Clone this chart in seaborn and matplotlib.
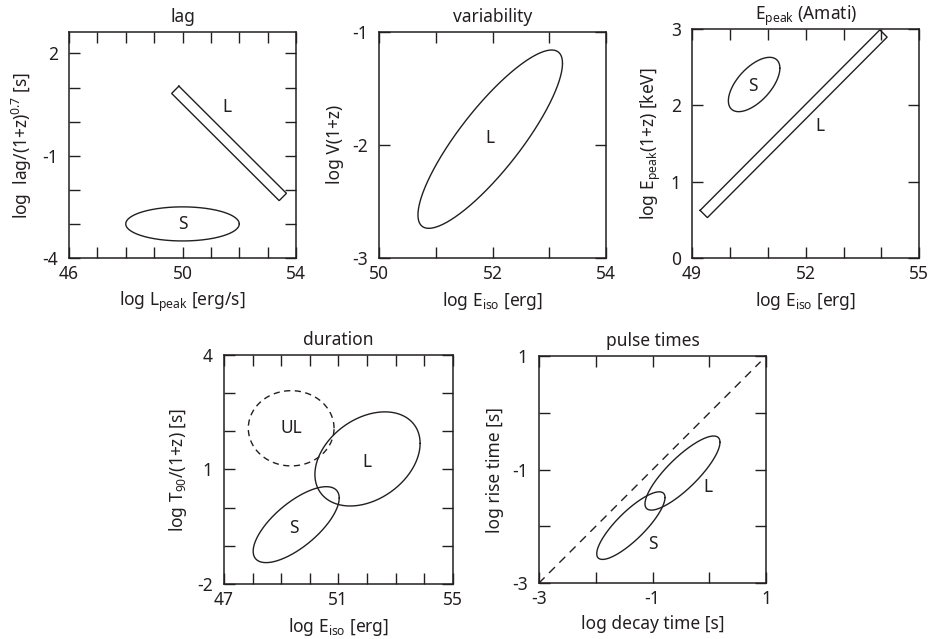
import numpy as np
import pandas as pd
import matplotlib
matplotlib.use("Agg")
import matplotlib.pyplot as plt
import seaborn as sns

# ------------------------------------------------------------------ data
# panel "lag"
lag_xticks = [46, 47, 48, 49, 50, 51, 52, 53, 54]
lag_xticklabels = ["46", "", "", "", "50", "", "", "", "54"]
lag_yticks = [-4, -3, -2, -1, 0, 1, 2]
lag_yticklabels = ["-4", "", "", "-1", "", "", "2"]
lag_xlim = [46, 54]
lag_ylim = [-4, 2.63]
lag_L_band_x = [49.745, 53.535]          # centre line of the L band
lag_L_band_y = [0.935, -2.21]
lag_S_center = [50.0, -3.0]
lag_S_half = [2.0, 0.5]
lag_S_rho = 0.0
lag_labels = ["L", "S"]
lag_label_x = [51.55, 50.0]
lag_label_y = [0.44, -3.0]

# panel "variability"
var_xticks = [50, 51, 52, 53, 54]
var_xticklabels = ["50", "", "52", "", "54"]
var_yticks = [-3, -2, -1]
var_yticklabels = ["-3", "-2", "-1"]
var_xlim = [50, 54]
var_ylim = [-3, -1]
var_L_center = [51.96, -1.951]
var_L_half = [1.27, 0.789]
var_L_rho = 0.85
var_labels = ["L"]
var_label_x = [51.96]
var_label_y = [-1.94]

# panel "Epeak (Amati)"
ama_xticks = [49, 50, 51, 52, 53, 54, 55]
ama_xticklabels = ["49", "", "", "52", "", "", "55"]
ama_yticks = [0, 1, 2, 3]
ama_yticklabels = ["0", "1", "2", "3"]
ama_xlim = [49, 55]
ama_ylim = [0, 3]
ama_L_band_x = [49.31, 54.055]
ama_L_band_y = [0.574, 2.945]
ama_S_center = [50.64, 2.275]
ama_S_half = [0.68, 0.357]
ama_S_rho = 0.6
ama_labels = ["S", "L"]
ama_label_x = [50.62, 52.38]
ama_label_y = [2.25, 1.73]

# panel "duration"
dur_xticks = [47, 48, 49, 50, 51, 52, 53, 54, 55]
dur_xticklabels = ["47", "", "", "", "51", "", "", "", "55"]
dur_yticks = [-2, -1, 0, 1, 2, 3, 4]
dur_yticklabels = ["-2", "", "", "1", "", "", "4"]
dur_xlim = [47, 55]
dur_ylim = [-2, 4]
dur_UL_center = [49.35, 2.08]
dur_UL_half = [1.5, 0.986]
dur_UL_rho = 0.0
dur_L_center = [52.02, 1.277]
dur_L_half = [1.84, 1.233]
dur_L_rho = 0.33
dur_S_center = [49.525, -0.445]
dur_S_half = [1.505, 0.995]
dur_S_rho = 0.7
dur_labels = ["UL", "L", "S"]
dur_label_x = [49.36, 52.01, 49.43]
dur_label_y = [2.08, 1.2, -0.54]

# panel "pulse times"
pul_xticks = [-3, -2, -1, 0, 1]
pul_xticklabels = ["-3", "", "-1", "", "1"]
pul_yticks = [-3, -2, -1, 0, 1]
pul_yticklabels = ["-3", "", "-1", "", "1"]
pul_xlim = [-3, 1]
pul_ylim = [-3, 1]
pul_diag_x = [-3.0, 0.9]
pul_diag_y = [-3.0, 0.9]
pul_L_center = [-0.473, -1.06]
pul_L_half = [0.659, 0.652]
pul_L_rho = 0.83
pul_S_center = [-1.38, -1.985]
pul_S_half = [0.60, 0.595]
pul_S_rho = 0.83
pul_labels = ["L", "S"]
pul_label_x = [-0.03, -0.99]
pul_label_y = [-1.31, -2.30]

# ------------------------------------------------------------------ style
sns.set_style("ticks")
INK = "#231f20"
FONT = "Noto Sans"
plt.rcParams["font.family"] = [FONT, "DejaVu Sans"]
plt.rcParams["mathtext.fontset"] = "custom"
plt.rcParams["mathtext.rm"] = FONT
plt.rcParams["mathtext.it"] = FONT + ":italic"
plt.rcParams["mathtext.bf"] = FONT + ":bold"
plt.rcParams["text.color"] = INK
plt.rcParams["axes.labelcolor"] = INK
plt.rcParams["xtick.color"] = INK
plt.rcParams["ytick.color"] = INK
plt.rcParams["axes.edgecolor"] = INK

FS = 12.5
LW = 1.0
W, H = 931, 639
fig = plt.figure(figsize=(W / 100, H / 100), dpi=100)
fig.patch.set_facecolor("white")


def make_axes(l, t, w, h):
    ax = fig.add_axes([l / W, 1 - (t + h) / H, w / W, h / H])
    ax.set_facecolor("white")
    for s in ax.spines.values():
        s.set_linewidth(1.1)
        s.set_color(INK)
    return ax


def setup(ax, xlim, ylim, xt, xtl, yt, ytl, title, xlabel, ylabel, ylabelpad=4):
    ax.set_xlim(xlim)
    ax.set_ylim(ylim)
    ax.set_xticks(xt, xtl)
    ax.set_yticks(yt, ytl)
    ax.tick_params(axis="both", which="both", direction="in", top=True,
                   right=True, length=8, width=1.0, labelsize=FS)
    ax.tick_params(axis="x", pad=5)
    ax.tick_params(axis="y", pad=8)
    ax.set_title(title, fontsize=FS, pad=7, color=INK)
    ax.set_xlabel(xlabel, fontsize=FS, labelpad=5)
    ax.set_ylabel(ylabel, fontsize=FS, labelpad=ylabelpad)


def ellipse(ax, center, half, rho, dashed=False):
    t = np.linspace(0, 2 * np.pi, 401)
    phi = np.arccos(rho)
    df = pd.DataFrame({"x": center[0] + half[0] * np.cos(t),
                       "y": center[1] + half[1] * np.cos(t - phi)})
    sns.lineplot(data=df, x="x", y="y", sort=False, estimator=None, ax=ax,
                 color=INK, lw=LW, solid_capstyle="round",
                 solid_joinstyle="round",
                 linestyle=(0, (4.5, 3.2)) if dashed else "-")


def band(ax, xs, ys, thick_px=10.3):
    p = ax.transData.transform(np.column_stack([xs, ys]))
    d = p[1] - p[0]
    n = np.array([-d[1], d[0]]) / np.hypot(d[0], d[1]) * thick_px / 2
    corners = np.array([p[0] + n, p[1] + n, p[1] - n, p[0] - n, p[0] + n])
    c = ax.transData.inverted().transform(corners)
    df = pd.DataFrame({"x": c[:, 0], "y": c[:, 1]})
    sns.lineplot(data=df, x="x", y="y", sort=False, estimator=None, ax=ax,
                 color=INK, lw=LW, clip_on=False, solid_joinstyle="miter",
                 solid_capstyle="projecting")


def labels(ax, txt, xs, ys):
    for s, x, y in zip(txt, xs, ys):
        ax.text(x, y, s, ha="center", va="center", fontsize=FS, color=INK)


# ---- lag
ax1 = make_axes(69, 32, 227, 226)
setup(ax1, lag_xlim, lag_ylim, lag_xticks, lag_xticklabels, lag_yticks,
      lag_yticklabels, "lag", r"log L$_{\mathregular{peak}}$ [erg/s]",
      r"log  lag/(1+z)$^{\mathregular{0.7}}$ [s]", ylabelpad=6)
band(ax1, lag_L_band_x, lag_L_band_y)
ellipse(ax1, lag_S_center, lag_S_half, lag_S_rho)
labels(ax1, lag_labels, lag_label_x, lag_label_y)

# ---- variability
ax2 = make_axes(378.7, 31.7, 227.6, 226)
setup(ax2, var_xlim, var_ylim, var_xticks, var_xticklabels, var_yticks,
      var_yticklabels, "variability", r"log E$_{\mathregular{iso}}$ [erg]",
      "log V(1+z)", ylabelpad=6)
ellipse(ax2, var_L_center, var_L_half, var_L_rho)
labels(ax2, var_labels, var_label_x, var_label_y)

# ---- Amati
ax3 = make_axes(692, 29.3, 227.3, 228.4)
setup(ax3, ama_xlim, ama_ylim, ama_xticks, ama_xticklabels, ama_yticks,
      ama_yticklabels, r"E$_{\mathregular{peak}}$ (Amati)",
      r"log E$_{\mathregular{iso}}$ [erg]",
      r"log E$_{\mathregular{peak}}$(1+z) [keV]", ylabelpad=6)
band(ax3, ama_L_band_x, ama_L_band_y)
ellipse(ax3, ama_S_center, ama_S_half, ama_S_rho)
labels(ax3, ama_labels, ama_label_x, ama_label_y)

# ---- duration
ax4 = make_axes(224, 355, 228.7, 229)
setup(ax4, dur_xlim, dur_ylim, dur_xticks, dur_xticklabels, dur_yticks,
      dur_yticklabels, "duration", r"log E$_{\mathregular{iso}}$ [erg]",
      r"log T$_{\mathregular{90}}$/(1+z) [s]", ylabelpad=6)
ellipse(ax4, dur_UL_center, dur_UL_half, dur_UL_rho, dashed=True)
ellipse(ax4, dur_L_center, dur_L_half, dur_L_rho)
ellipse(ax4, dur_S_center, dur_S_half, dur_S_rho)
labels(ax4, dur_labels, dur_label_x, dur_label_y)

# ---- pulse times
ax5 = make_axes(538.7, 356, 227.6, 227.3)
setup(ax5, pul_xlim, pul_ylim, pul_xticks, pul_xticklabels, pul_yticks,
      pul_yticklabels, "pulse times", "log decay time [s]",
      "log rise time [s]", ylabelpad=6)
sns.lineplot(x=pul_diag_x, y=pul_diag_y, sort=False, estimator=None, ax=ax5,
             color=INK, lw=LW, linestyle=(0, (6, 4.5)))
ellipse(ax5, pul_L_center, pul_L_half, pul_L_rho)
ellipse(ax5, pul_S_center, pul_S_half, pul_S_rho)
labels(ax5, pul_labels, pul_label_x, pul_label_y)

fig.savefig("out.png", dpi=100, facecolor="white")
